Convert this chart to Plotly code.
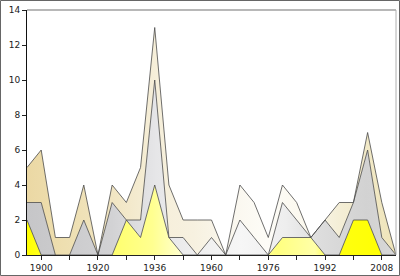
import plotly.graph_objects as go

# Olympic games (categorical x positions)
years = [1896, 1900, 1904, 1908, 1912, 1920, 1924, 1928, 1932, 1936, 1948, 1952, 1956,
         1960, 1964, 1968, 1972, 1976, 1980, 1984, 1988, 1992, 1996, 2000, 2004, 2008, 2012]
gold = [2, 0, 0, 0, 0, 0, 0, 2, 1, 4, 1, 0, 0, 0, 0, 0, 0, 0, 1, 1, 1, 0, 0, 2, 2, 0, 0]
silver = [1, 3, 0, 0, 2, 0, 3, 0, 1, 6, 0, 1, 0, 1, 0, 2, 1, 0, 2, 1, 0, 2, 1, 1, 4, 1, 0]
bronze = [2, 3, 1, 1, 2, 0, 1, 1, 3, 3, 3, 1, 2, 1, 0, 2, 2, 1, 1, 1, 0, 0, 2, 0, 1, 2, 0]
labelled_years = [1900, 1920, 1936, 1960, 1976, 1992, 2008]
y_ticks = [0, 2, 4, 6, 8, 10, 12, 14]

xpos = list(range(len(years)))

gold_scale = [(0, '#ffff00'), (0.06, '#ffff30'), (0.24, '#ffff70'), (0.34, '#ffff90'),
              (0.42, '#ffffd0'), (0.6, '#ffffa0'), (0.68, '#ffff80'), (0.78, '#ffffa8'),
              (0.84, '#ffff10'), (1, '#ffff00')]
silver_scale = [(0, '#c6c6c8'), (0.1, '#cbcbcd'), (0.23, '#d2d2d4'), (0.35, '#e6e6e8'),
                (0.45, '#eeeeee'), (0.58, '#f6f6f6'), (0.7, '#eeeeee'), (0.8, '#dcdcdc'),
                (0.92, '#d2d2d2'), (1, '#d8d8d8')]
bronze_scale = [(0, '#ebd8a4'), (0.1, '#eedfb0'), (0.23, '#f1e5c2'), (0.35, '#f6efda'),
                (0.45, '#f7f1e0'), (0.55, '#faf7ee'), (0.65, '#fdfcf7'), (0.75, '#fbf8ee'),
                (0.85, '#f4eed6'), (1, '#efe4b8')]

fig = go.Figure()
for name, vals, scale in [('gold', gold, gold_scale), ('silver', silver, silver_scale),
                          ('bronze', bronze, bronze_scale)]:
    fig.add_trace(go.Scatter(
        x=xpos, y=vals, name=name, mode='lines', stackgroup='m',
        line=dict(color='#4a4a4a', width=0.8),
        fillgradient=dict(type='horizontal', colorscale=scale),
        hoverinfo='skip', showlegend=False))

tickvals = [i for i in xpos if i % 2 == 1]
ticktext = [str(years[i]) if years[i] in labelled_years else '' for i in tickvals]

fig.update_layout(
    width=400, height=276,
    margin=dict(l=27, r=4, t=10, b=21),
    paper_bgcolor='white', plot_bgcolor='white',
    font=dict(family='DejaVu Sans', size=9, color='#222'),
    xaxis=dict(range=[0, len(years) - 1], tickvals=tickvals, ticktext=ticktext,
               showgrid=False, zeroline=False, showline=True, linecolor='#222', linewidth=1,
               ticks='outside', ticklen=4, tickcolor='#222', tickwidth=1),
    yaxis=dict(range=[0, 14], tickvals=y_ticks, showgrid=False, zeroline=False,
               showline=True, linecolor='#111', linewidth=1,
               ticks='outside', ticklen=4, tickcolor='#222', tickwidth=1),
    shapes=[
        dict(type='line', xref='paper', yref='paper', x0=0, x1=1, y0=1, y1=1,
             line=dict(color='#b8b8b8', width=2)),
        dict(type='line', xref='paper', yref='paper', x0=1, x1=1, y0=0, y1=1,
             line=dict(color='#b0b0b0', width=1)),
        dict(type='rect', xref='paper', yref='paper',
             x0=-26.5 / 369, x1=1 + 3.5 / 369, y0=-20.5 / 245, y1=1 + 9.5 / 245,
             line=dict(color='#666', width=1)),
    ],
)

fig.write_html('out.html')
